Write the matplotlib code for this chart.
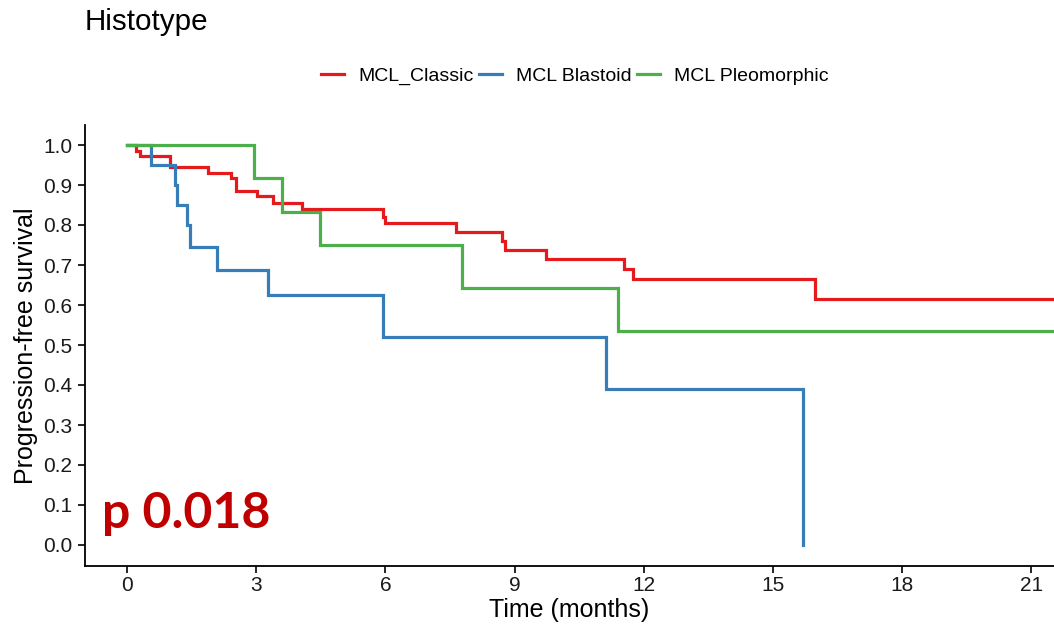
import matplotlib
matplotlib.use("Agg")
import matplotlib.pyplot as plt
from matplotlib.lines import Line2D

plt.rcParams['font.family'] = ['Liberation Sans', 'DejaVu Sans']

# Kaplan-Meier step data: event times (months) and survival after each drop
classic_times = [0.21, 0.30, 1.00, 1.87, 2.41, 2.53, 3.01, 3.39, 4.07, 5.95, 5.99,
                 7.64, 8.71, 8.78, 9.73, 11.53, 11.75, 15.98]
classic_surv = [0.986, 0.972, 0.945, 0.930, 0.917, 0.885, 0.872, 0.856, 0.839, 0.821,
                0.804, 0.782, 0.760, 0.738, 0.714, 0.689, 0.666, 0.614]
classic_end = 22.5

blastoid_times = [0.56, 1.10, 1.15, 1.40, 1.45, 2.08, 3.27, 5.95, 11.13, 15.69]
blastoid_surv = [0.95, 0.90, 0.85, 0.80, 0.744, 0.6875, 0.625, 0.52, 0.39, 0.0]
blastoid_end = 15.69

pleo_times = [2.95, 3.59, 4.47, 7.77, 11.41]
pleo_surv = [0.917, 0.833, 0.75, 0.643, 0.536]
pleo_end = 22.5

labels = ["MCL_Classic", "MCL Blastoid", "MCL Pleomorphic"]
colors = ["#E41A1C", "#377EB8", "#4DAF4A"]
p_text = "p 0.018"


def step_xy(times, surv, end):
    xs = [0.0]
    ys = [1.0]
    for t, s in zip(times, surv):
        xs += [t, t]
        ys += [ys[-1], s]
    if end > xs[-1]:
        xs.append(end)
        ys.append(ys[-1])
    return xs, ys


fig = plt.figure(figsize=(10.54, 6.28), dpi=100)
ax = fig.add_axes([85 / 1054, 1 - 566 / 628, 1 - 85 / 1054, (566 - 125) / 628])

series = [(classic_times, classic_surv, classic_end),
          (blastoid_times, blastoid_surv, blastoid_end),
          (pleo_times, pleo_surv, pleo_end)]
for (t, s, e), c in zip(series, colors):
    xs, ys = step_xy(t, s, e)
    ax.plot(xs, ys, color=c, lw=2.3, solid_joinstyle='miter', clip_on=True)

ax.set_xlim(-0.98, 21.53)
ax.set_ylim(-0.0525, 1.05)
ax.set_xticks(range(0, 22, 3))
ax.set_yticks([i / 10 for i in range(11)])
ax.set_yticklabels([f"{i / 10:.1f}" for i in range(11)])
ax.tick_params(axis='both', direction='out', length=5, width=1.2, color='black',
               labelsize=15, labelcolor='#1a1a1a')
ax.tick_params(axis='x', pad=2)
ax.tick_params(axis='y', pad=4)
for side in ['top', 'right']:
    ax.spines[side].set_visible(False)
for side in ['left', 'bottom']:
    ax.spines[side].set_linewidth(1.3)
    ax.spines[side].set_color('black')

ax.set_xlabel("Time (months)", fontsize=18, labelpad=2)
ax.set_ylabel("Progression-free survival", fontsize=18, labelpad=4)

ax.text(-0.58, 0.078, p_text, fontsize=36, fontweight='bold', color='#C00000',
        family=['Lato', 'DejaVu Sans'], va='center', ha='left')

fig.text(85 / 1054, 1 - 22 / 628, "Histotype", fontsize=21.3, va='center', ha='left')

handles = [Line2D([0], [0], color=c, lw=2.3) for c in colors]
fig.legend(handles, labels, loc='center', bbox_to_anchor=(575 / 1054, 1 - 76 / 628),
           ncol=3, frameon=False, fontsize=14, handlelength=1.18, handletextpad=0.72,
           columnspacing=0.3)

fig.savefig("out.png", dpi=100)
